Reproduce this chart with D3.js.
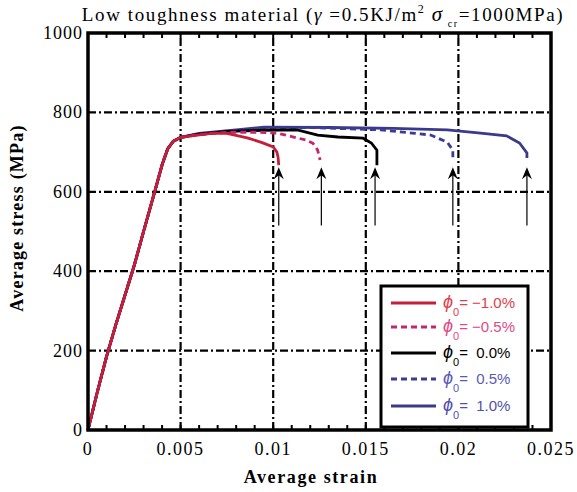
<!DOCTYPE html>
<html>
<head>
<meta charset="utf-8">
<script src="https://cdn.jsdelivr.net/npm/d3@7"></script>
<style>
  body { margin: 0; background: #fff; }
  svg { display: block; }
</style>
</head>
<body>
<div id="chart"></div>
<script>
// data
var xTicks = [0, 0.005, 0.01, 0.015, 0.02, 0.025];
var xTickLabels = ['0', '0.005', '0.01', '0.015', '0.02', '0.025'];
var yTicks = [0, 200, 400, 600, 800, 1000];

// shared elastic branch (strain, stress)
var rise = [[0, 0], [0.0005, 95], [0.001, 185], [0.0015, 265], [0.002, 340], [0.0025, 415],
  [0.003, 500], [0.0036, 600], [0.004, 668], [0.0043, 708], [0.0046, 727], [0.005, 737]];

var seriesNames = ['-1.0%', '-0.5%', '0.0%', '0.5%', '1.0%'];
var seriesLabels = ['= \u22121.0%', '= \u22120.5%', '=  0.0%', '=  0.5%', '=  1.0%'];
var seriesColors = ['#c41e3a', '#c8246c', '#000000', '#3c3c96', '#3a3a8c'];
var labelColors = ['#e0404c', '#e04a86', '#000000', '#5a5ab4', '#5050a8'];
var seriesDash = [null, '6,4', null, '6,4', null];

var tails = [
  [[0.0058, 742], [0.0068, 748], [0.0075, 747], [0.0086, 736], [0.0094, 724], [0.01, 713],
   [0.0102, 700], [0.01026, 688], [0.0103, 667]],
  [[0.006, 744], [0.0075, 750], [0.009, 750], [0.0102, 748], [0.0111, 738], [0.0118, 730],
   [0.01215, 722], [0.0124, 705], [0.01253, 680]],
  [[0.006, 745], [0.0075, 752], [0.0095, 755], [0.0113, 756], [0.0124, 743], [0.0135, 738],
   [0.01485, 735], [0.0153, 723], [0.0156, 705], [0.0156, 667]],
  [[0.006, 746], [0.008, 755], [0.0095, 760], [0.012, 762], [0.0158, 756], [0.0175, 748],
   [0.0185, 743], [0.0194, 725], [0.0197, 705], [0.0197, 680]],
  [[0.006, 747], [0.008, 756], [0.0095, 763], [0.013, 762], [0.0165, 760], [0.0194, 756],
   [0.0212, 748], [0.0226, 741], [0.0233, 723], [0.0237, 698], [0.0237, 685]]
];

// arrows marking failure points
var arrowStrain = [0.0103, 0.0126, 0.0155, 0.0197, 0.0237];
var arrowFrom = 515, arrowTo = 662;

var width = 577, height = 492;
var margin = {left: 88, right: 26, top: 33, bottom: 62};

var svg = d3.select('#chart').append('svg')
  .attr('width', width).attr('height', height);

var x = d3.scaleLinear().domain([0, 0.025]).range([margin.left, width - margin.right]);
var y = d3.scaleLinear().domain([0, 1000]).range([height - margin.bottom, margin.top]);

// grid
var grid = svg.append('g').attr('stroke', '#000').attr('stroke-width', 2.2)
  .attr('stroke-dasharray', '8,3,2,3');
grid.selectAll('.gx').data(xTicks.slice(1, -1)).enter().append('line')
  .attr('x1', d => x(d)).attr('x2', d => x(d))
  .attr('y1', y(0)).attr('y2', y(1000));
grid.selectAll('.gy').data(yTicks.slice(1, -1)).enter().append('line')
  .attr('y1', d => y(d)).attr('y2', d => y(d))
  .attr('x1', x(0)).attr('x2', x(0.025));

// minor ticks top and bottom
var minor = d3.range(1, 25).map(i => i * 0.001);
svg.append('g').selectAll('line').data(minor).enter().append('line')
  .attr('x1', d => x(d)).attr('x2', d => x(d))
  .attr('y1', y(0)).attr('y2', y(0) - 5)
  .attr('stroke', '#000').attr('stroke-width', 2);
svg.append('g').selectAll('line').data(minor).enter().append('line')
  .attr('x1', d => x(d)).attr('x2', d => x(d))
  .attr('y1', y(1000)).attr('y2', y(1000) + 5)
  .attr('stroke', '#000').attr('stroke-width', 2);

// curves
var line = d3.line().x(d => x(d[0])).y(d => y(d[1]));
// draw in reverse so the first series end up on top near the rise
d3.range(tails.length).reverse().forEach(function(i) {
  svg.append('path')
    .datum(rise.concat(tails[i]))
    .attr('d', line)
    .attr('fill', 'none')
    .attr('stroke', seriesColors[i])
    .attr('stroke-width', 2.8)
    .attr('stroke-dasharray', seriesDash[i]);
});

// arrows
var arrows = svg.append('g');
arrows.selectAll('line').data(arrowStrain).enter().append('line')
  .attr('x1', d => x(d)).attr('x2', d => x(d))
  .attr('y1', y(arrowFrom)).attr('y2', y(arrowTo) + 6)
  .attr('stroke', '#000').attr('stroke-width', 1.2);
arrows.selectAll('path').data(arrowStrain).enter().append('path')
  .attr('d', function(d) {
    var ax = x(d), ay = y(arrowTo);
    return 'M' + ax + ',' + ay + 'L' + (ax + 5) + ',' + (ay + 12) +
      'L' + ax + ',' + (ay + 8) + 'L' + (ax - 5) + ',' + (ay + 12) + 'Z';
  })
  .attr('fill', '#000');

// frame
svg.append('rect')
  .attr('x', x(0)).attr('y', y(1000))
  .attr('width', x(0.025) - x(0)).attr('height', y(0) - y(1000))
  .attr('fill', 'none').attr('stroke', '#000').attr('stroke-width', 3.5);

// tick labels
var serif = '"Liberation Serif", "Times New Roman", serif';
svg.append('g').selectAll('text').data(xTicks).enter().append('text')
  .attr('x', d => x(d)).attr('y', y(0) + 25)
  .attr('text-anchor', 'middle')
  .attr('font-family', serif).attr('font-size', 18).attr('letter-spacing', 1.5)
  .text((d, i) => xTickLabels[i]);
svg.append('g').selectAll('text').data(yTicks).enter().append('text')
  .attr('x', x(0) - 5).attr('y', d => y(d) + 6)
  .attr('text-anchor', 'end')
  .attr('font-family', serif).attr('font-size', 18).attr('letter-spacing', 1)
  .text(d => d);

// axis titles
svg.append('text')
  .attr('x', 311).attr('y', 483)
  .attr('text-anchor', 'middle')
  .attr('font-family', serif).attr('font-size', 18).attr('font-weight', 'bold')
  .attr('letter-spacing', 1.6)
  .text('Average strain');
svg.append('text')
  .attr('transform', 'translate(23,' + 218 + ') rotate(-90)')
  .attr('text-anchor', 'middle')
  .attr('font-family', serif).attr('font-size', 18).attr('font-weight', 'bold')
  .attr('letter-spacing', 1.2)
  .text('Average stress  (MPa)');

// title
var title = svg.append('text')
  .attr('x', 323).attr('y', 21)
  .attr('text-anchor', 'middle')
  .attr('font-family', serif).attr('font-size', 19).attr('letter-spacing', 1.6);
title.append('tspan').text('Low toughness material (');
title.append('tspan').attr('font-style', 'italic').text('\u03b3');
title.append('tspan').text(' =0.5KJ/m');
title.append('tspan').attr('font-size', 12).attr('dy', -8).text('2');
title.append('tspan').attr('dy', 8).text('  ');
title.append('tspan').attr('font-style', 'italic').attr('font-size', 21).text('\u03c3');
title.append('tspan').attr('font-size', 10).attr('dy', 6).text(' cr');
title.append('tspan').attr('dy', -6).text('=1000MPa)');

// legend
var lx = 381, ly = 286, lw = 147, lh = 141;
var legend = svg.append('g');
legend.append('rect')
  .attr('x', lx).attr('y', ly).attr('width', lw).attr('height', lh)
  .attr('fill', '#fff').attr('stroke', '#000').attr('stroke-width', 3);
var rowY = [303, 327, 353, 379, 406];
var sans = '"Liberation Sans", Arial, sans-serif';
seriesNames.forEach(function(name, i) {
  legend.append('line')
    .attr('x1', lx + 10).attr('x2', lx + 55)
    .attr('y1', rowY[i]).attr('y2', rowY[i])
    .attr('stroke', seriesColors[i]).attr('stroke-width', 3)
    .attr('stroke-dasharray', seriesDash[i]);
  var t = legend.append('text')
    .attr('x', lx + 62).attr('y', rowY[i] + 5)
    .attr('font-family', sans).attr('font-size', 15)
    .attr('fill', labelColors[i]);
  t.append('tspan').attr('font-style', 'italic').attr('font-size', 18).text('\u03d5');
  t.append('tspan').attr('font-size', 11).attr('dy', 8).text('0');
  t.append('tspan').attr('dy', -8).attr('xml:space', 'preserve').text(seriesLabels[i]);
});
</script>
</body>
</html>
